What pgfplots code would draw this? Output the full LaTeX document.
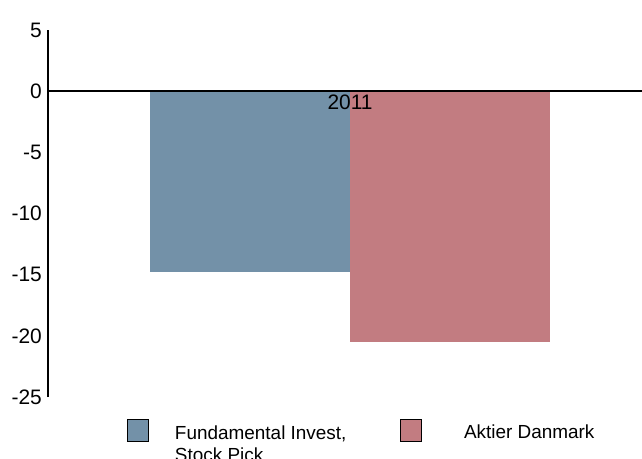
\documentclass[border=0pt]{standalone}
\usepackage{fontspec}
\setmainfont{Liberation Sans}
\usepackage{pgfplots}
\pgfplotsset{compat=1.18}
\definecolor{cblue}{RGB}{115,145,168}
\definecolor{cred}{RGB}{194,124,129}
\begin{document}
\begin{tikzpicture}
\useasboundingbox (-48bp,-62bp) rectangle (594bp,397bp);
\begin{axis}[
  at={(0,0)}, anchor=south west,
  scale only axis, width=594bp, height=367bp,
  xmin=-1.51, xmax=1.46, ymin=-25, ymax=5,
  ybar=0pt, bar width=1,
  axis x line=middle, axis y line=left,
  axis line style={-, line width=1.4bp, black},
  xtick={0}, xticklabels={2011},
  ytick={-25,-20,-15,-10,-5,0,5},
  yticklabels={-25,-20,-15,-10,-5,0,5},
  major tick length=0pt,
  tick label style={font=\fontsize{21}{24}\selectfont},
  xticklabel style={inner sep=3.5bp},
  yticklabel style={inner sep=6bp},
  axis on top,
  clip=false,
  legend columns=2,
  legend style={at={(0.133,-0.061)}, anchor=north west, draw=none, fill=none,
    inner sep=0pt, outer sep=0pt,
    font=\fontsize{19}{22}\selectfont,
    nodes={inner sep=0pt},
    /tikz/every odd column/.append style={column sep=26bp},
    /tikz/every even column/.append style={column sep=0bp}},
]
\addplot[fill=cblue, draw=none,
  legend image code/.code={\draw[black, line width=1bp, fill=cblue] (0bp,-9.5bp) rectangle (21bp,12.5bp);}]
  coordinates {(0,-14.8)};
\addlegendentry{\makebox[225bp][l]{\begin{tabular}[t]{@{}l@{}}Fundamental Invest,\\Stock Pick\end{tabular}}}
\addplot[fill=cred, draw=none,
  legend image code/.code={\draw[black, line width=1bp, fill=cred] (0bp,-9.5bp) rectangle (21bp,12.5bp);}]
  coordinates {(0,-20.5)};
\addlegendentry{\hspace{16bp}Aktier Danmark}
\end{axis}
\end{tikzpicture}
\end{document}
